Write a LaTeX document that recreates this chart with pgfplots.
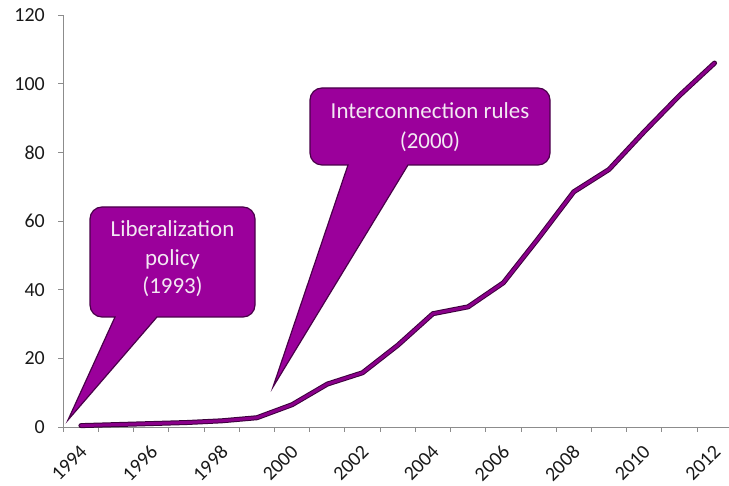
\documentclass[border=0pt]{standalone}
\usepackage{pgfplots}
\pgfplotsset{compat=1.18}
\usepackage{fontspec}
\setmainfont{Carlito}
\definecolor{cfill}{HTML}{9B009B}
\definecolor{cborder}{HTML}{4A004A}
\definecolor{ctext}{HTML}{F3E8F3}
\definecolor{lineout}{HTML}{3C003C}
\definecolor{linein}{HTML}{8A008A}
\definecolor{axgray}{HTML}{8C8C8C}
\begin{document}
\begin{tikzpicture}
\useasboundingbox (0,0) rectangle (729bp,486bp);
\begin{axis}[
  at={(63.3bp,59bp)}, anchor=south west,
  scale only axis, width=665.7bp, height=412bp,
  xmin=-0.5, xmax=18.41, ymin=0, ymax=120,
  axis lines=left, axis line style={draw=axgray, line width=0.9bp, -},
  xtick={0,2,...,18},
  xticklabels={1994,1996,1998,2000,2002,2004,2006,2008,2010,2012},
  minor xtick={-0.5,0.5,...,18.5},
  ytick={0,20,...,120},
  tick align=outside,
  major tick length=5bp, minor tick length=5bp,
  x tick style={draw=none},
  minor x tick style={draw=axgray, line width=0.9bp},
  y tick style={draw=axgray, line width=0.9bp},
  tick label style={font=\fontsize{20}{22}\selectfont, text=black!90},
  /pgf/number format/assume math mode=true,
  xticklabel style={xshift=-2bp, yshift=-11bp, rotate=45, anchor=north east, inner sep=0.5bp},
  yticklabel style={anchor=east, xshift=-10bp},
  clip=false,
]
\addplot[color=lineout, line width=5bp, line join=round, line cap=round] coordinates {
(0,0.4) (1,0.7) (2,1.0) (3,1.3) (4,1.8) (5,2.7) (6,6.5) (7,12.5) (8,15.8) (9,23.8)
(10,33) (11,35) (12,42) (13,55) (14,68.5) (15,75) (16,86) (17,96.5) (18,106)};
\addplot[color=linein, line width=3bp, line join=round, line cap=round] coordinates {
(0,0.4) (1,0.7) (2,1.0) (3,1.3) (4,1.8) (5,2.7) (6,6.5) (7,12.5) (8,15.8) (9,23.8)
(10,33) (11,35) (12,42) (13,55) (14,68.5) (15,75) (16,86) (17,96.5) (18,106)};
\end{axis}
% callout 1
\path[fill=cfill, draw=cborder, line width=1.2bp]
  (115bp,169bp) -- (68bp,66bp) -- (157bp,169bp)
  [rounded corners=12bp] -- (255bp,169bp) -- (255bp,279bp) -- (90bp,279bp) -- (90bp,169bp)
  [sharp corners] -- cycle;
\node[text=ctext, align=center, font=\fontsize{23}{28.5}\selectfont] at (172.5bp,227bp)
  {Liberalization\\policy\\(1993)};
% callout 2
\path[fill=cfill, draw=cborder, line width=1.2bp]
  (348bp,321bp) -- (273bp,99bp) -- (408bp,321bp)
  [rounded corners=12bp] -- (550bp,321bp) -- (550bp,398bp) -- (310bp,398bp) -- (310bp,321bp)
  [sharp corners] -- cycle;
\node[text=ctext, align=center, font=\fontsize{23}{30}\selectfont] at (430bp,359bp)
  {Interconnection rules\\(2000)};
\end{tikzpicture}
\end{document}
